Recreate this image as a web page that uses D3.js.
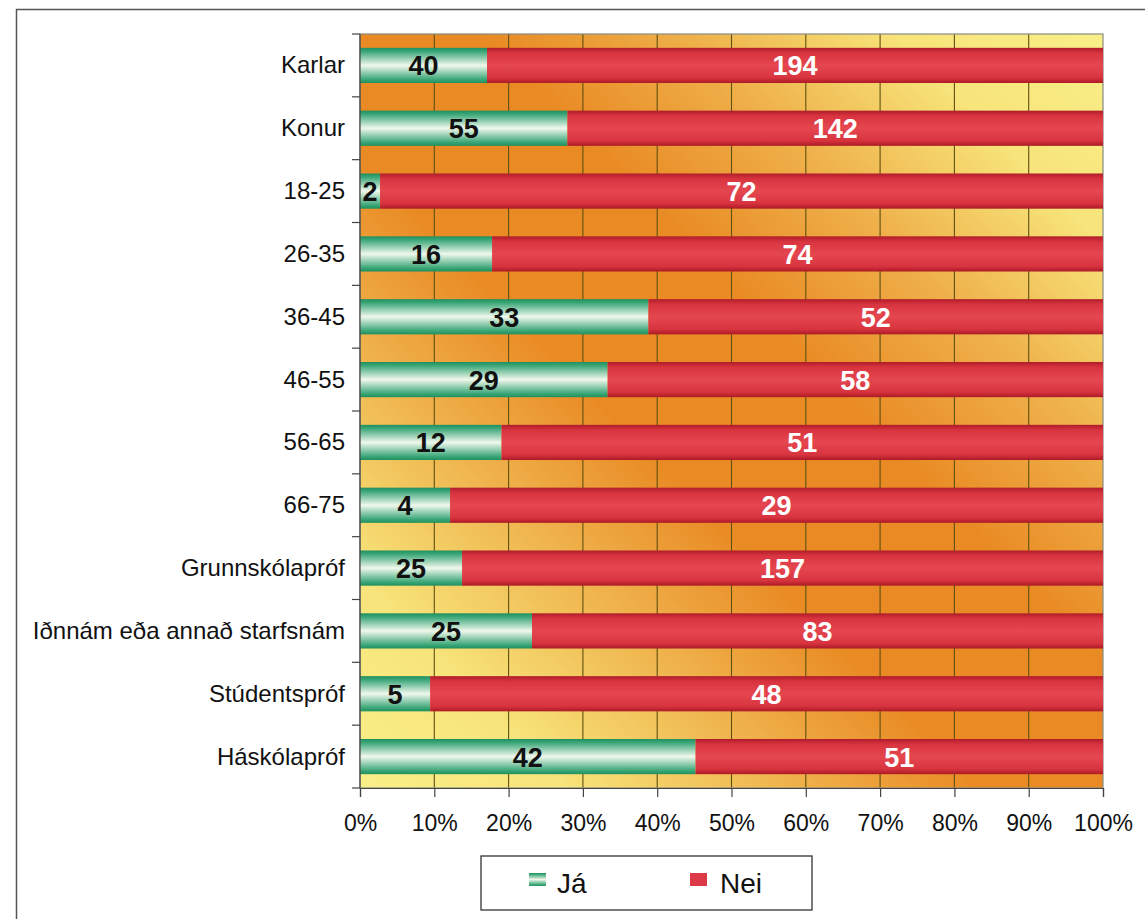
<!DOCTYPE html>
<html>
<head>
<meta charset="utf-8">
<script src="https://cdn.jsdelivr.net/npm/d3@7"></script>
<style>
  html, body { margin: 0; padding: 0; background: #fff; }
  svg { display: block; }
  text { font-family: "Liberation Sans", Arial, sans-serif; }
</style>
</head>
<body>
<svg id="chart" width="1145" height="919"></svg>
<script>
const categories = ["Karlar", "Konur", "18-25", "26-35", "36-45", "46-55", "56-65", "66-75",
  "Grunnskólapróf", "Iðnnám eða annað starfsnám", "Stúdentspróf", "Háskólapróf"];
const jaValues  = [40, 55, 2, 16, 33, 29, 12, 4, 25, 25, 5, 42];
const neiValues = [194, 142, 72, 74, 52, 58, 51, 29, 157, 83, 48, 51];
const seriesNames = ["Já", "Nei"];
const tickValues = [0, 0.1, 0.2, 0.3, 0.4, 0.5, 0.6, 0.7, 0.8, 0.9, 1.0];

(function () {
const svg = d3.select("#chart");
const defs = svg.append("defs");

// background gradient (diagonal yellow-orange-yellow)
const bg = defs.append("linearGradient").attr("id", "bgGrad")
  .attr("x1", "0").attr("y1", "1").attr("x2", "1").attr("y2", "0");
[["0", "#f9ef88"], ["0.14", "#f7e47a"], ["0.3", "#efb04a"], ["0.42", "#e98a24"],
 ["0.58", "#e98a24"], ["0.72", "#efb04a"], ["0.86", "#f7e47a"], ["1", "#f9ef88"]]
  .forEach(s => bg.append("stop").attr("offset", s[0]).attr("stop-color", s[1]));

const gGrad = defs.append("linearGradient").attr("id", "greenGrad")
  .attr("x1", "0").attr("y1", "0").attr("x2", "0").attr("y2", "1");
[["0", "#1f8f5e"], ["0.1", "#3aa677"], ["0.5", "#f0f8ec"], ["0.9", "#3aa677"], ["1", "#1f8f5e"]]
  .forEach(s => gGrad.append("stop").attr("offset", s[0]).attr("stop-color", s[1]));

const rGrad = defs.append("linearGradient").attr("id", "redGrad")
  .attr("x1", "0").attr("y1", "0").attr("x2", "0").attr("y2", "1");
[["0", "#b01c2a"], ["0.15", "#d8343f"], ["0.5", "#e5474f"], ["0.85", "#d8343f"], ["1", "#ac1a26"]]
  .forEach(s => rGrad.append("stop").attr("offset", s[0]).attr("stop-color", s[1]));

// outer chart border
svg.append("rect").attr("x", 16.5).attr("y", 9.5).attr("width", 1200).attr("height", 1000)
  .attr("fill", "none").attr("stroke", "#555").attr("stroke-width", 1.5);

const pLeft = 360, pRight = 1103, pTop = 34, pBottom = 788;

const x = d3.scaleLinear().domain([0, 1]).range([pLeft, pRight]);
const y = d3.scaleBand().domain(categories).range([pTop, pBottom])
  .paddingInner(0.44).paddingOuter(0.22);

// plot background
svg.append("rect").attr("x", pLeft).attr("y", pTop)
  .attr("width", pRight - pLeft).attr("height", pBottom - pTop)
  .attr("fill", "url(#bgGrad)");

// vertical gridlines
svg.append("g").selectAll("line").data(tickValues.slice(1, -1)).join("line")
  .attr("x1", d => x(d)).attr("x2", d => x(d))
  .attr("y1", pTop).attr("y2", pBottom)
  .attr("stroke", "#5e5010").attr("stroke-width", 1.1);

// plot border
svg.append("rect").attr("x", pLeft).attr("y", pTop)
  .attr("width", pRight - pLeft).attr("height", pBottom - pTop)
  .attr("fill", "none").attr("stroke", "#8a8a80").attr("stroke-width", 1.2);

// data
const rows = categories.map((c, i) => {
  const total = jaValues[i] + neiValues[i];
  return { cat: c, ja: jaValues[i], nei: neiValues[i], pJa: jaValues[i] / total };
});

const bars = svg.append("g");
bars.selectAll("rect.ja").data(rows).join("rect").attr("class", "ja")
  .attr("x", x(0)).attr("y", d => y(d.cat))
  .attr("width", d => x(d.pJa) - x(0)).attr("height", y.bandwidth())
  .attr("fill", "url(#greenGrad)");
bars.selectAll("rect.nei").data(rows).join("rect").attr("class", "nei")
  .attr("x", d => x(d.pJa)).attr("y", d => y(d.cat))
  .attr("width", d => x(1) - x(d.pJa)).attr("height", y.bandwidth())
  .attr("fill", "url(#redGrad)");

// value labels
bars.selectAll("text.jaL").data(rows).join("text").attr("class", "jaL")
  .attr("x", d => (x(0) + x(d.pJa)) / 2)
  .attr("y", d => y(d.cat) + y.bandwidth() / 2 + 10)
  .attr("text-anchor", "middle").attr("font-size", 27).attr("font-weight", "bold")
  .attr("fill", "#111").text(d => d.ja);
bars.selectAll("text.neiL").data(rows).join("text").attr("class", "neiL")
  .attr("x", d => (x(d.pJa) + x(1)) / 2)
  .attr("y", d => y(d.cat) + y.bandwidth() / 2 + 10)
  .attr("text-anchor", "middle").attr("font-size", 27).attr("font-weight", "bold")
  .attr("fill", "#fff").text(d => d.nei);

// y axis
const yAxisG = svg.append("g").attr("transform", `translate(${pLeft},0)`);
yAxisG.append("line").attr("x1", 0).attr("x2", 0).attr("y1", pTop).attr("y2", pBottom)
  .attr("stroke", "#444").attr("stroke-width", 1.2);
const boundaries = d3.range(categories.length + 1).map(i => pTop + i * (pBottom - pTop) / categories.length);
yAxisG.selectAll("line.tick").data(boundaries).join("line").attr("class", "tick")
  .attr("x1", -8).attr("x2", 0).attr("y1", d => d).attr("y2", d => d)
  .attr("stroke", "#444").attr("stroke-width", 1.2);
svg.append("g").selectAll("text").data(categories).join("text")
  .attr("x", 345).attr("y", d => y(d) + y.bandwidth() / 2 + 8)
  .attr("text-anchor", "end").attr("font-size", 24).attr("fill", "#111")
  .text(d => d);

// x axis
const xAxis = d3.axisBottom(x).tickValues(tickValues).tickFormat(d3.format(".0%"))
  .tickSize(9).tickPadding(18);
const xg = svg.append("g").attr("transform", `translate(0,${pBottom})`).call(xAxis);
xg.select(".domain").attr("stroke", "#444").attr("stroke-width", 1.2);
xg.selectAll(".tick line").attr("stroke", "#444").attr("stroke-width", 1.2);
xg.selectAll(".tick text").attr("font-size", 23).attr("fill", "#111")
  .attr("font-family", "'Liberation Sans', Arial, sans-serif");

// legend
const lg = svg.append("g");
lg.append("rect").attr("x", 481).attr("y", 856).attr("width", 331).attr("height", 54)
  .attr("fill", "#fff").attr("stroke", "#333").attr("stroke-width", 1.3);
const legendItems = [
  { name: seriesNames[0], fill: "url(#greenGrad)", sx: 529, tx: 557 },
  { name: seriesNames[1], fill: "#dc3a46", sx: 690, tx: 720 }
];
lg.selectAll("rect.sw").data(legendItems).join("rect").attr("class", "sw")
  .attr("x", d => d.sx).attr("y", 873).attr("width", 17).attr("height", 13)
  .attr("fill", d => d.fill);
lg.selectAll("text").data(legendItems).join("text")
  .attr("x", d => d.tx).attr("y", 893).attr("font-size", 28).attr("fill", "#111")
  .text(d => d.name);
})();
</script>
</body>
</html>
